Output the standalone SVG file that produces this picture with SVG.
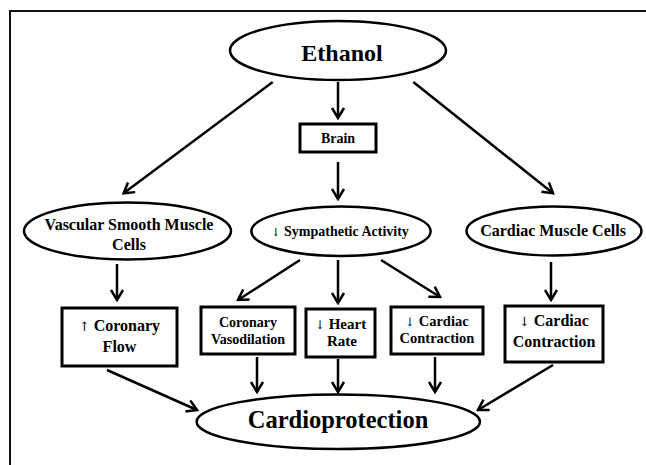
<svg xmlns="http://www.w3.org/2000/svg" width="646" height="465" viewBox="0 0 646 465">
<style>
.frame{stroke:#111;stroke-width:2;fill:none}
.ell{fill:#fff;stroke:#000;stroke-width:2.5}
.box{fill:#fff;stroke:#000;stroke-width:3}
text{font-family:"Liberation Serif","Times New Roman",serif;font-weight:bold;fill:#000;text-anchor:middle}
.ar{font-family:"DejaVu Serif","DejaVu Sans",serif;font-weight:normal;font-size:0.8em}
.c line{stroke:#000;stroke-width:2.5;marker-end:url(#ah)}
</style>
<defs>
<marker id="ah" viewBox="-13 -8 15 16" refX="0" refY="0" markerWidth="15" markerHeight="16" markerUnits="userSpaceOnUse" orient="auto">
<path d="M-10,-6 L0,0 L-10,6" fill="none" stroke="#000" stroke-width="2.5" stroke-linejoin="miter"/>
</marker>
</defs>
<rect width="646" height="465" fill="#fff"/>
<path class="frame" d="M10,465 V11 H646"/>
<g class="c" id="connectors">
<line x1="338" y1="82" x2="338" y2="118"/>
<line x1="272.7" y1="82" x2="123.6" y2="193.3"/>
<line x1="413.3" y1="82" x2="553" y2="193.3"/>
<line x1="338" y1="162" x2="338" y2="199"/>
<line x1="117" y1="264" x2="117" y2="300"/>
<line x1="551" y1="262" x2="551" y2="300"/>
<line x1="338" y1="260" x2="338" y2="303"/>
<line x1="300" y1="260" x2="238" y2="300"/>
<line x1="381" y1="260" x2="440" y2="297"/>
<line x1="107" y1="370" x2="197" y2="410"/>
<line x1="257" y1="357" x2="257" y2="392"/>
<line x1="338" y1="359" x2="338" y2="392"/>
<line x1="435" y1="357" x2="435" y2="392"/>
<line x1="553" y1="365" x2="478" y2="410"/>
</g>
<g id="ethanol">
<ellipse class="ell" cx="338" cy="50.5" rx="108" ry="29.5"/>
<text x="342" y="61" font-size="24">Ethanol</text>
</g>
<g id="brain">
<rect class="box" x="300" y="124" width="76" height="28"/>
<text x="338" y="143" font-size="14">Brain</text>
</g>
<g id="vascular">
<ellipse class="ell" cx="127.5" cy="231" rx="103.5" ry="28.5"/>
<text x="129" y="229.5" font-size="16">Vascular Smooth Muscle</text>
<text x="129" y="250" font-size="16">Cells</text>
</g>
<g id="sympathetic">
<ellipse class="ell" cx="341" cy="231.3" rx="89.6" ry="24.7"/>
<text x="340" y="236" font-size="14"><tspan class="ar">↓</tspan> Sympathetic Activity</text>
</g>
<g id="cardiac-cells">
<ellipse class="ell" cx="554" cy="231" rx="87.5" ry="24.5"/>
<text x="553" y="236" font-size="16">Cardiac Muscle Cells</text>
</g>
<g id="coronary-flow">
<rect class="box" x="62" y="308" width="115" height="58"/>
<text x="119.5" y="331" font-size="16"><tspan class="ar">↑</tspan> Coronary</text>
<text x="119.5" y="352" font-size="16">Flow</text>
</g>
<g id="vasodilation">
<rect class="box" x="201" y="307" width="94" height="47"/>
<text x="248" y="327" font-size="14">Coronary</text>
<text x="248" y="344" font-size="14">Vasodilation</text>
</g>
<g id="heart-rate">
<rect class="box" x="306" y="309" width="69" height="48"/>
<text x="340.5" y="329" font-size="15"><tspan class="ar">↓</tspan> Heart</text>
<text x="342" y="346" font-size="15">Rate</text>
</g>
<g id="cardiac-contraction-1">
<rect class="box" x="391" y="307" width="92" height="47"/>
<text x="437" y="326" font-size="14.5"><tspan class="ar">↓</tspan> Cardiac</text>
<text x="437" y="343" font-size="14.5">Contraction</text>
</g>
<g id="cardiac-contraction-2">
<rect class="box" x="505" y="306" width="98" height="56"/>
<text x="554" y="326" font-size="16"><tspan class="ar">↓</tspan> Cardiac</text>
<text x="554" y="347" font-size="16">Contraction</text>
</g>
<g id="cardioprotection">
<ellipse class="ell" cx="338.3" cy="421.7" rx="141.7" ry="27.3"/>
<text x="338" y="428" font-size="24.5">Cardioprotection</text>
</g>
</svg>
